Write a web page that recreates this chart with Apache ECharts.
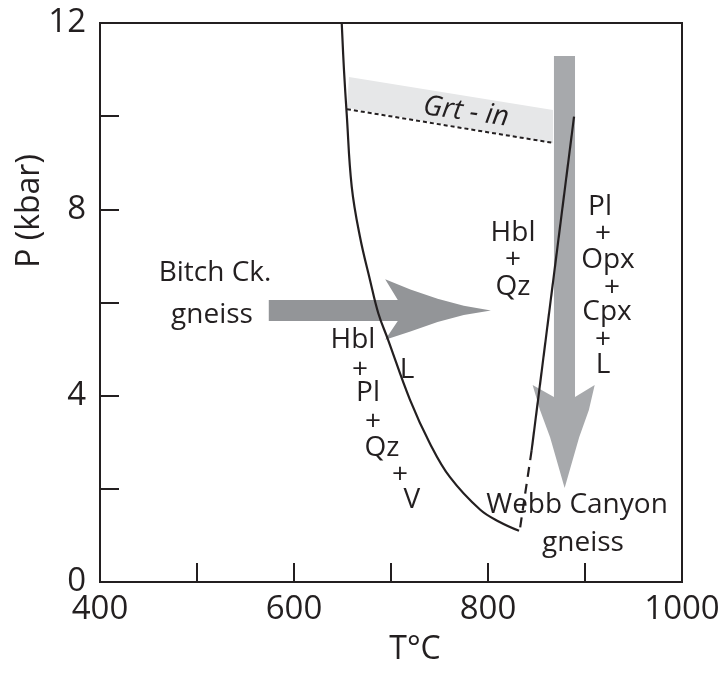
<!DOCTYPE html>
<html>
<head>
<meta charset="utf-8">
<script src="https://cdn.jsdelivr.net/npm/echarts@6/dist/echarts.min.js"></script>
<style>html,body{margin:0;padding:0;background:#fff}#c{width:726px;height:674px}</style>
</head>
<body>
<div id="c"></div>
<script>
// Axis ranges / ticks
var xTicks = [400, 500, 600, 700, 800, 900, 1000];
var yTicks = [0, 2, 4, 6, 8, 10, 12];
var xLabelValues = [400, 600, 800, 1000];
var yLabelValues = [0, 4, 8, 12];

// Solidus curve (Hbl+Pl+Qz+V / L): [T, P]
var solidusCurve = [[649.2,12],[651.5,11],[654.3,10.06],[659.5,8.49],[668,7.41],[678.4,6.48],[686.9,5.77],[697,5.2],[719.6,3.91],[740,2.98],[760.8,2.25],[792,1.55],[812,1.29],[832,1.1]];
// Steep Hbl-out line (solid part) and its dashed extension
var hblOutSolid = [[888.7,9.99],[845,2.83]];
var hblOutDashed = [[845,2.83],[833,1.15]];
// Grt-in dashed line
var grtInLine = [[654.6,10.15],[866,9.43]];
// Grt-in shaded band polygon
var grtBand = [[656.7,10.84],[867,10.13],[867,9.42],[654.6,10.18]];
// Horizontal (Bitch Ck.) arrow outline
var arrowH = [[574,6.055],[707,6.055],[694,6.5],[720,6.28],[748,6.08],[775,5.93],[803,5.83],[775,5.73],[748,5.58],[720,5.38],[694,5.2],[707,5.605],[574,5.605]];
// Vertical (Webb Canyon) arrow outline
var arrowV = [[868,11.29],[889.7,11.29],[889.7,3.97],[910,4.23],[904,3.69],[894,3.11],[879,2.02],[864,3.11],[853.6,3.69],[846,4.23],[868,3.97]];

// Text annotations
var labelTexts = ['Bitch Ck.','gneiss','Hbl','+','L','Pl','+','Qz','+','V','Hbl','+','Qz','Pl','+','Opx','+','Cpx','+','L','Webb Canyon','gneiss'];
var labelT = [518.6,515.5,660.8,668,716.5,676.3,681.4,690.7,709.3,721.6,825.8,825.8,825.8,915.5,918.6,923.7,927.8,922.7,918.6,918.6,891.8,897.9];
var labelP = [6.63,5.73,5.20,4.55,4.55,4.06,3.43,2.88,2.30,1.76,7.49,6.91,6.33,8.05,7.47,6.91,6.31,5.80,5.20,4.66,1.66,0.84];
var grtLabel = {text:'Grt - in', T:777.3, P:10.09};

var INK = '#231f20';
var FONT = '"Open Sans", "DejaVu Sans", sans-serif';

function polySeries(points, color, z) {
  return {
    type: 'custom',
    coordinateSystem: 'cartesian2d',
    z: z,
    silent: true,
    data: points,
    encode: {x: 0, y: 1},
    renderItem: function (params, api) {
      if (params.dataIndex !== 0) return null;
      var pts = points.map(function (p) { return api.coord(p); });
      return {type: 'polygon', shape: {points: pts}, style: {fill: color, stroke: null}};
    }
  };
}

var labelData = labelTexts.map(function (t, i) { return {name: t, value: [labelT[i], labelP[i]]}; });

var chart = echarts.init(document.getElementById('c'), null, {renderer: 'canvas'});
chart.setOption({
  animation: false,
  backgroundColor: '#ffffff',
  grid: {left: 100, right: 44, top: 23, bottom: 92, show: true, borderColor: INK, borderWidth: 2, backgroundColor: 'transparent'},
  xAxis: {
    type: 'value', min: xTicks[0], max: xTicks[xTicks.length-1], interval: xTicks[1]-xTicks[0],
    axisLine: {show: true, lineStyle: {color: INK, width: 2}},
    axisTick: {show: true, inside: true, length: 19, lineStyle: {color: INK, width: 2}},
    splitLine: {show: false},
    axisLabel: {show: true, showMinLabel: true, showMaxLabel: true, margin: 11, color: INK, fontSize: 33, fontFamily: FONT,
      formatter: function (v) { return xLabelValues.indexOf(v) >= 0 ? String(v) : ''; }}
  },
  yAxis: {
    type: 'value', min: yTicks[0], max: yTicks[yTicks.length-1], interval: yTicks[1]-yTicks[0],
    axisLine: {show: true, lineStyle: {color: INK, width: 2}},
    axisTick: {show: true, inside: true, length: 19, lineStyle: {color: INK, width: 2}},
    splitLine: {show: false},
    axisLabel: {show: true, showMinLabel: true, showMaxLabel: true, margin: 14, color: INK, fontSize: 33, fontFamily: FONT,
      formatter: function (v) { return yLabelValues.indexOf(v) >= 0 ? String(v) : ''; }}
  },
  graphic: [
    {type: 'text', x: 30, y: 211, rotation: Math.PI/2, style: {text: 'P (kbar)', fill: INK, font: '32px ' + FONT, align: 'center', verticalAlign: 'middle'}},
    {type: 'text', x: 415, y: 650, style: {text: 'T°C', fill: INK, font: '32px ' + FONT, align: 'center', verticalAlign: 'middle'}}
  ],
  series: [
    polySeries(grtBand, '#e6e7e8', 1),
    polySeries(arrowH, '#939598', 1),
    polySeries(arrowV, '#a7a9ac', 1),
    {type: 'line', data: grtInLine, symbol: 'none', z: 3, silent: true,
      lineStyle: {color: INK, width: 2, type: [4, 3]}},
    {type: 'line', data: solidusCurve, symbol: 'none', smooth: 0.4, z: 3, silent: true,
      lineStyle: {color: INK, width: 2.2}},
    {type: 'line', data: hblOutSolid, symbol: 'none', z: 3, silent: true,
      lineStyle: {color: INK, width: 2.2}},
    {type: 'line', data: hblOutDashed, symbol: 'none', z: 3, silent: true,
      lineStyle: {color: INK, width: 2.2, type: [10, 7]}},
    {type: 'scatter', data: labelData, symbolSize: 1, z: 4, silent: true,
      itemStyle: {color: 'rgba(0,0,0,0)', opacity: 1},
      label: {show: true, position: 'inside', formatter: '{b}', color: INK, opacity: 1, fontSize: 28, fontFamily: FONT}},
    {type: 'scatter', data: [{name: grtLabel.text, value: [grtLabel.T, grtLabel.P]}], symbolSize: 1, z: 4, silent: true,
      itemStyle: {color: 'rgba(0,0,0,0)', opacity: 1},
      label: {show: true, position: 'inside', formatter: '{b}', rotate: -8, color: INK, opacity: 1, fontSize: 28, fontStyle: 'italic', fontFamily: FONT}}
  ]
});
</script>
</body>
</html>
